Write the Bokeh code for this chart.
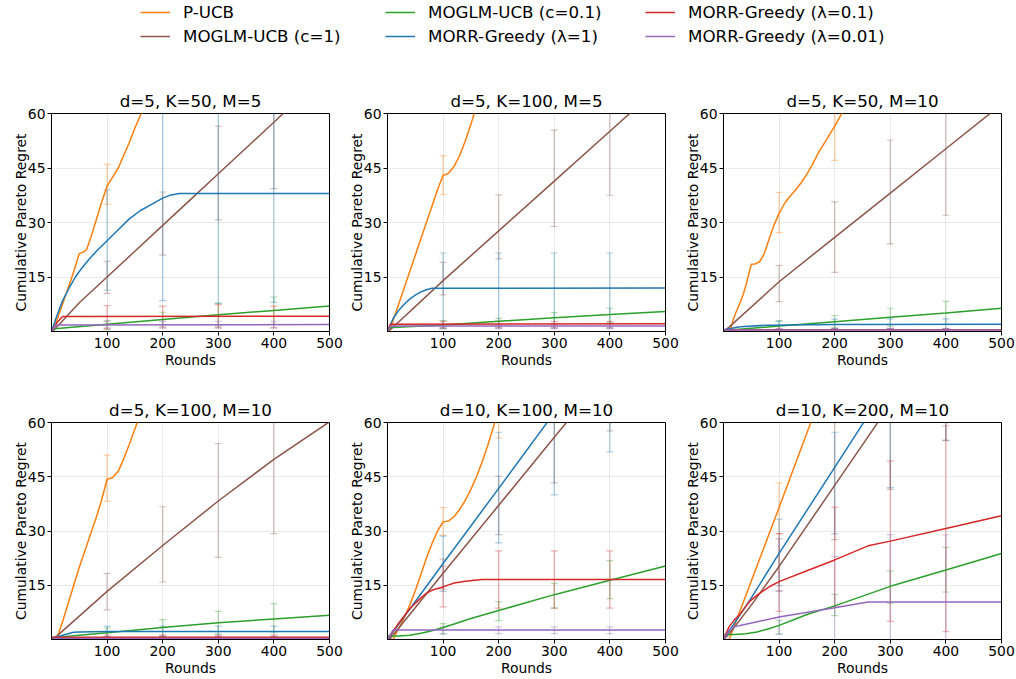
from bokeh.plotting import figure
from bokeh.models import Range1d, FixedTicker, Legend, LegendItem
from bokeh.layouts import column, row
from bokeh.embed import file_html
from bokeh.resources import INLINE

NAN = float("nan")

# ---------------- common ----------------
SERIES = ["P-UCB", "MOGLM-UCB (c=1)", "MOGLM-UCB (c=0.1)",
          "MORR-Greedy (λ=1)", "MORR-Greedy (λ=0.1)", "MORR-Greedy (λ=0.01)"]
COLORS = ["#ff7f0e", "#8c564b", "#2ca02c", "#1f77b4", "#d62728", "#9467bd"]
TITLES = ["d=5, K=50, M=5", "d=5, K=100, M=5", "d=5, K=50, M=10",
          "d=5, K=100, M=10", "d=10, K=100, M=10", "d=10, K=200, M=10"]
X_LABEL = "Rounds"
Y_LABEL = "Cumulative Pareto Regret"
X_TICKS = [100, 200, 300, 400, 500]
Y_TICKS = [15, 30, 45, 60]
ERR_X = [100, 200, 300, 400]

# ---------------- panel 1: d=5, K=50, M=5 ----------------
a1_pucb_x = [0, 3, 10, 20, 30, 40, 50, 57, 63, 70, 80, 90, 100, 110, 120, 130, 140, 150, 160, 170]
a1_pucb_y = [0, 0, 3.2, 7.6, 12, 16.5, 21.5, 21.8, 22.5, 25.5, 30.5, 35.5, 40, 42.5, 45, 48.5, 52, 56, 59.5, 63]
a1_moglm1_x = [0, 5, 50, 100, 150, 200, 250, 300, 350, 400, 430]
a1_moglm1_y = [0, 0.5, 7.9, 15, 22.1, 29.2, 36.3, 43.4, 50.5, 57.6, 61.9]
a1_moglm01_x = [0, 100, 200, 300, 400, 500]
a1_moglm01_y = [0.7, 2.0, 3.3, 4.6, 5.8, 7.0]
a1_morr1_x = [0, 10, 20, 30, 43, 50, 60, 70, 82, 100, 120, 140, 160, 180, 200, 215, 230, 500]
a1_morr1_y = [0, 4.5, 8.5, 11.5, 15, 16.5, 18.5, 20.3, 22.3, 25, 28, 31, 33.3, 35, 36.7, 37.6, 38, 38]
a1_morr01_x = [0, 10, 20, 500]
a1_morr01_y = [0, 2.5, 4.1, 4.2]
a1_morr001_x = [0, 8, 500]
a1_morr001_y = [0, 1.8, 1.9]
a1_lo = [[35, NAN, NAN, NAN], [10.5, 21, 30.7, 39.3], [0.5, 1.5, 1.5, 2],
         [11.4, 8.5, 7.7, 8], [0.8, 1, 1, 1], [1, 1, 1, 1]]
a1_hi = [[46, NAN, NAN, NAN], [19.3, 38.4, 56.5, 72], [3, 5.3, 7.9, 9.5],
         [39, 72, 72, 72], [7.1, 7, 7.4, 7], [2.8, 2.8, 2.8, 2.8]]

# ---------------- panel 2: d=5, K=100, M=5 ----------------
a2_pucb_x = [0, 5, 10, 20, 30, 40, 50, 60, 70, 80, 90, 100, 105, 110, 120, 130, 140, 150, 160]
a2_pucb_y = [0, 0.5, 3, 7.5, 12, 16.5, 21, 25.5, 30, 34.5, 39, 43, 43.2, 43.6, 45.5, 48.5, 52.5, 57, 62]
a2_moglm1_x = [0, 5, 100, 200, 300, 400, 445]
a2_moglm1_y = [0, 0.5, 14, 27.7, 41.4, 55.1, 61.3]
a2_moglm01_x = [0, 100, 200, 300, 400, 500]
a2_moglm01_y = [1.0, 1.8, 2.8, 3.8, 4.7, 5.5]
a2_morr1_x = [0, 10, 20, 30, 40, 50, 60, 70, 80, 500]
a2_morr1_y = [0, 3.5, 5.8, 7.5, 8.9, 10, 10.9, 11.5, 11.9, 12]
a2_morr01_x = [0, 5, 500]
a2_morr01_y = [0, 2.0, 2.1]
a2_morr001_x = [0, 5, 500]
a2_morr001_y = [0, 1.5, 1.5]
a2_lo = [[37.7, NAN, NAN, NAN], [10.1, 20, 28.9, 37.5], [0.8, 1.5, 2, 2.5],
         [1, 1, 1, 1], [1, 1, 1, 1], [0.8, 0.8, 0.8, 0.8]]
a2_hi = [[48.4, NAN, NAN, NAN], [19, 37.6, 55.4, 72], [3, 3.6, 5.2, 6.4],
         [21.6, 21.6, 21.6, 21.6], [2.8, 2.8, 2.8, 2.8], [2, 2, 2, 2]]

# ---------------- panel 3: d=5, K=50, M=10 ----------------
a3_pucb_x = [0, 12, 17, 23, 30, 35, 40, 45, 50, 57, 65, 72, 80, 90, 100, 110, 120, 130,
             140, 150, 160, 170, 180, 190, 200, 210, 220]
a3_pucb_y = [0, 0, 3, 5.5, 8, 10, 12.5, 15.5, 18.5, 18.6, 19.2, 21, 24.5, 29, 32.5, 35.3, 37.3, 39,
             41, 43.3, 46, 49, 51.5, 54, 56.5, 59.3, 62]
a3_moglm1_x = [0, 10, 100, 200, 300, 400, 490]
a3_moglm1_y = [0, 1.2, 13.7, 25.9, 38.1, 50.3, 61.3]
a3_moglm01_x = [0, 100, 200, 300, 400, 500]
a3_moglm01_y = [0.3, 1.5, 2.7, 3.9, 5.1, 6.4]
a3_morr1_x = [0, 30, 80, 200, 500]
a3_morr1_y = [0.5, 1.3, 1.75, 1.9, 2.0]
a3_morr01_x = [0, 500]
a3_morr01_y = [0.5, 0.5]
a3_morr001_x = [0, 500]
a3_morr001_y = [0.4, 0.4]
a3_lo = [[27.2, 47.1, NAN, NAN], [8.2, 16.3, 24.1, 32], [0.5, 1, 1.5, 2],
         [0.6, 0.8, 0.8, 0.8], [0.1, 0.1, 0.1, 0.1], [0.1, 0.1, 0.1, 0.1]]
a3_hi = [[38.3, 72, NAN, NAN], [18.2, 35.7, 52.7, 72], [3, 4.4, 6.4, 8.3],
         [2.8, 3.4, 3.5, 3.5], [0.9, 0.9, 0.9, 0.9], [0.8, 0.8, 0.8, 0.8]]

# ---------------- panel 4: d=5, K=100, M=10 ----------------
a4_pucb_x = [0, 10, 20, 30, 40, 50, 60, 70, 80, 90, 100, 105, 110, 120, 130, 140, 150, 160]
a4_pucb_y = [0, 0.5, 5, 10, 15, 20, 24.5, 29, 33.5, 38.5, 44.3, 44.5, 44.8, 46.5, 50, 54, 58.2, 62.5]
a4_moglm1_x = [0, 10, 100, 200, 300, 400, 500]
a4_moglm1_y = [0, 1, 13.3, 26, 38.3, 49.8, 60.2]
a4_moglm01_x = [0, 100, 200, 300, 400, 500]
a4_moglm01_y = [0.5, 1.9, 3.3, 4.6, 5.7, 6.7]
a4_morr1_x = [0, 20, 40, 50, 100, 500]
a4_morr1_y = [0.3, 1.2, 2.0, 2.1, 2.2, 2.2]
a4_morr01_x = [0, 500]
a4_morr01_y = [0.6, 0.6]
a4_morr001_x = [0, 500]
a4_morr001_y = [0.25, 0.25]
a4_lo = [[38.2, NAN, NAN, NAN], [8.2, 15.9, 22.7, 29.3], [0.5, 1, 1.5, 2],
         [0.8, 0.8, 0.8, 0.8], [0.2, 0.2, 0.2, 0.2], [0.1, 0.1, 0.1, 0.1]]
a4_hi = [[51, NAN, NAN, NAN], [18.3, 36.7, 54.2, 72], [3.2, 5.5, 7.8, 9.9],
         [3.7, 3.7, 3.7, 3.7], [1.2, 1.2, 1.2, 1.2], [0.8, 0.8, 0.8, 0.8]]

# ---------------- panel 5: d=10, K=100, M=10 ----------------
a5_pucb_x = [0, 10, 20, 30, 40, 50, 60, 70, 80, 90, 100, 110, 120, 130, 140, 150, 160, 170,
             180, 190, 200]
a5_pucb_y = [0, 0, 3, 6, 9.5, 13.5, 18, 22.5, 26.5, 30, 32.5, 32.8, 34, 36, 38.5, 41.5, 45, 49,
             53.5, 58.5, 63.5]
a5_moglm1_x = [0, 5, 100, 200, 300, 340]
a5_moglm1_y = [0, 0.3, 18.3, 37.1, 55.9, 63.4]
a5_moglm01_x = [0, 20, 40, 60, 80, 100, 120, 150, 200, 300, 400, 500]
a5_moglm01_y = [1.0, 1.0, 1.2, 1.7, 2.4, 3.3, 4.3, 5.8, 8.0, 12.4, 16.4, 20.3]
a5_morr1_x = [0, 100, 200, 300]
a5_morr1_y = [0, 21, 41.8, 62.7]
a5_morr01_x = [0, 20, 40, 60, 70, 80, 90, 100, 110, 120, 140, 170, 500]
a5_morr01_y = [0, 4.5, 8.5, 11.5, 12.8, 13.6, 14.1, 14.5, 15.1, 15.6, 16.1, 16.6, 16.6]
a5_morr001_x = [0, 10, 500]
a5_morr001_y = [0, 2.6, 2.6]
a5_lo = [[28.8, 55.7, NAN, NAN], [13.9, 29, 43.3, 57.7], [1.5, 5.2, 8.7, 11.3],
         [13.3, 26.7, 40, 51.9], [9, 8.7, 8.7, 8.7], [1.6, 1.6, 1.6, 1.6]]
a5_hi = [[36.5, 72, NAN, NAN], [22.2, 45.2, 72, 72], [4.4, 10.5, 15.5, 21.8],
         [28.6, 57.3, 72, 72], [20.2, 24.5, 24.5, 24.5], [3.5, 3.5, 3.5, 3.5]]

# ---------------- panel 6: d=10, K=200, M=10 ----------------
a6_pucb_x = [0, 10, 20, 30, 50, 100, 157, 165]
a6_pucb_y = [0, 0, 4, 8, 16.2, 36.5, 60, 63.3]
a6_moglm1_x = [0, 10, 50, 100, 200, 290]
a6_moglm1_y = [0, 1.5, 9.5, 20.2, 42.6, 62.8]
a6_moglm01_x = [0, 20, 40, 60, 80, 100, 125, 150, 200, 300, 400, 500]
a6_moglm01_y = [1.4, 1.4, 1.6, 2.1, 2.9, 3.9, 5.4, 6.9, 9.3, 14.7, 19.2, 23.8]
a6_morr1_x = [0, 50, 100, 200, 260]
a6_morr1_y = [0, 11.5, 23.8, 47.6, 61.9]
a6_morr01_x = [0, 10, 20, 30, 46, 60, 70, 85, 100, 150, 200, 260, 300, 400, 500]
a6_morr01_y = [0, 3.5, 5.5, 7, 10.4, 12.2, 13.3, 14.8, 16, 19, 22, 25.9, 27.2, 30.7, 34.2]
a6_morr001_x = [0, 10, 20, 30, 100, 200, 260, 500]
a6_morr001_y = [0, 2.5, 3.5, 3.9, 6.2, 8.8, 10.4, 10.4]
a6_lo = [[29.3, NAN, NAN, NAN], [13.3, 27.6, 41.5, 55], [1.5, 6.6, 10, 13.1],
         [14.8, 29.2, 42, 55.1], [7.8, 9, 5, 2.2], [1.5, 0, 0, 0]]
a6_hi = [[43.3, NAN, NAN, NAN], [27.8, 72, 72, 72], [5.3, 12.5, 19, 25.5],
         [33.3, 57.3, 72, 72], [29.3, 36.6, 49.4, 59.1], [13.5, 22.9, 29, 28.9]]

PANELS = [
    (TITLES[0], [(a1_pucb_x, a1_pucb_y), (a1_moglm1_x, a1_moglm1_y), (a1_moglm01_x, a1_moglm01_y),
                 (a1_morr1_x, a1_morr1_y), (a1_morr01_x, a1_morr01_y), (a1_morr001_x, a1_morr001_y)], a1_lo, a1_hi),
    (TITLES[1], [(a2_pucb_x, a2_pucb_y), (a2_moglm1_x, a2_moglm1_y), (a2_moglm01_x, a2_moglm01_y),
                 (a2_morr1_x, a2_morr1_y), (a2_morr01_x, a2_morr01_y), (a2_morr001_x, a2_morr001_y)], a2_lo, a2_hi),
    (TITLES[2], [(a3_pucb_x, a3_pucb_y), (a3_moglm1_x, a3_moglm1_y), (a3_moglm01_x, a3_moglm01_y),
                 (a3_morr1_x, a3_morr1_y), (a3_morr01_x, a3_morr01_y), (a3_morr001_x, a3_morr001_y)], a3_lo, a3_hi),
    (TITLES[3], [(a4_pucb_x, a4_pucb_y), (a4_moglm1_x, a4_moglm1_y), (a4_moglm01_x, a4_moglm01_y),
                 (a4_morr1_x, a4_morr1_y), (a4_morr01_x, a4_morr01_y), (a4_morr001_x, a4_morr001_y)], a4_lo, a4_hi),
    (TITLES[4], [(a5_pucb_x, a5_pucb_y), (a5_moglm1_x, a5_moglm1_y), (a5_moglm01_x, a5_moglm01_y),
                 (a5_morr1_x, a5_morr1_y), (a5_morr01_x, a5_morr01_y), (a5_morr001_x, a5_morr001_y)], a5_lo, a5_hi),
    (TITLES[5], [(a6_pucb_x, a6_pucb_y), (a6_moglm1_x, a6_moglm1_y), (a6_moglm01_x, a6_moglm01_y),
                 (a6_morr1_x, a6_morr1_y), (a6_morr01_x, a6_morr01_y), (a6_morr001_x, a6_morr001_y)], a6_lo, a6_hi),
]

FONT = "DejaVu Sans"
TICK_SIZE = "13.9px"
TITLE_SIZE = "16.7px"
FRAME_H = 218


def make_panel(title, series, lo, hi, w, h, ml, mr, mt, mb):
    p = figure(width=w, height=h, x_range=Range1d(0, 500), y_range=Range1d(0, 60),
               toolbar_location=None, output_backend="svg", title=title,
               min_border_left=ml, min_border_right=mr, min_border_top=mt, min_border_bottom=mb)
    p.title.text_font = FONT
    p.title.text_font_size = TITLE_SIZE
    p.title.text_font_style = "normal"
    p.title.text_color = "black"
    p.title.align = "center"
    p.title.standoff = 5
    p.outline_line_color = "black"
    p.outline_line_width = 1
    p.background_fill_color = "white"
    p.border_fill_color = "white"

    p.xaxis.ticker = FixedTicker(ticks=X_TICKS)
    p.yaxis.ticker = FixedTicker(ticks=Y_TICKS)
    for ax in (p.xaxis, p.yaxis):
        ax.major_label_text_font = FONT
        ax.major_label_text_font_size = TICK_SIZE
        ax.major_label_text_color = "black"
        ax.axis_label_text_font = FONT
        ax.axis_label_text_font_size = TICK_SIZE
        ax.axis_label_text_font_style = "normal"
        ax.axis_label_text_color = "black"
        ax.axis_line_color = "black"
        ax.major_tick_line_color = "black"
        ax.major_tick_out = 4
        ax.major_tick_in = 0
        ax.minor_tick_line_color = None
        ax.major_label_standoff = 2
    p.xaxis.axis_label_standoff = 1
    p.yaxis.axis_label_standoff = -4
    p.xaxis.axis_label = X_LABEL
    p.yaxis.axis_label = Y_LABEL
    for g in (p.xgrid, p.ygrid):
        g.grid_line_color = "#b0b0b0"
        g.grid_line_alpha = 0.35
        g.grid_line_width = 0.8

    # error bars
    for k, color in enumerate(COLORS):
        p.segment(x0=ERR_X, y0=lo[k], x1=ERR_X, y1=hi[k], line_color=color,
                  line_alpha=0.3, line_width=1.5)
        p.scatter(x=ERR_X, y=lo[k], marker="dash", size=7, line_color=color,
                  line_alpha=0.35, line_width=1.2)
        p.scatter(x=ERR_X, y=hi[k], marker="dash", size=7, line_color=color,
                  line_alpha=0.35, line_width=1.2)
    # mean curves
    for (xs, ys), color in zip(series, COLORS):
        p.line(xs, ys, line_color=color, line_width=1.5)
    return p


# ---------------- layout sizes ----------------
LEG_H = 78
TOP_H = 35 + FRAME_H + 56
BOT_H = 35 + FRAME_H + 38
# (width, min_border_left, min_border_right)
WIDTHS = [(343, 51, 14), (336, 44, 14), (336, 44, 14)]

figs = []
for i, (title, series, lo, hi) in enumerate(PANELS):
    w, ml, mr = WIDTHS[i % 3]
    if i < 3:
        f = make_panel(title, series, lo, hi, w, TOP_H, ml, mr, 35, 56)
    else:
        f = make_panel(title, series, lo, hi, w, BOT_H, ml, mr, 35, 38)
    figs.append(f)

# ---------------- legend figure ----------------
leg = figure(width=1015, height=LEG_H, x_range=Range1d(0, 1), y_range=Range1d(0, 1),
             toolbar_location=None, output_backend="svg", min_border=0)
leg.axis.visible = False
leg.grid.visible = False
leg.outline_line_color = None
rends = []
for color in COLORS:
    rends.append(leg.line([-2, -1], [-2, -2], line_color=color, line_width=1.5))

LEG_X = [140, 385, 645]
for c in range(3):
    items = [LegendItem(label=SERIES[2 * c], renderers=[rends[2 * c]]),
             LegendItem(label=SERIES[2 * c + 1], renderers=[rends[2 * c + 1]])]
    lg = Legend(items=items, location=(LEG_X[c], LEG_H - 46), orientation="vertical",
                padding=0, margin=0, spacing=4, glyph_width=30, glyph_height=20,
                label_height=20, label_standoff=13, border_line_color=None,
                background_fill_alpha=0, label_text_font=FONT, label_text_font_size="16.7px",
                label_text_color="black")
    leg.add_layout(lg, "center")

layout = column(leg, row(*figs[:3]), row(*figs[3:]))
open("out.html", "w").write(file_html(layout, INLINE))
